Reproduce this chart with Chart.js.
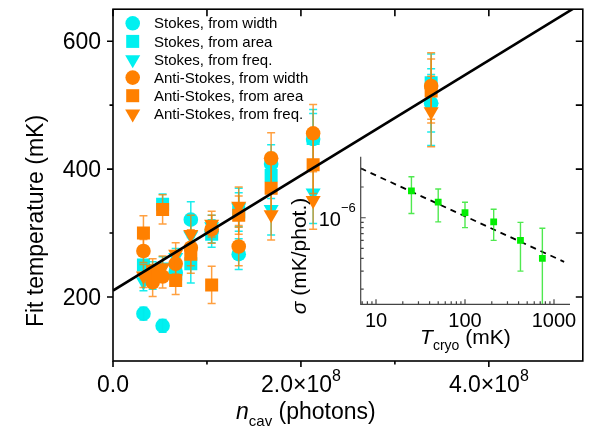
<!DOCTYPE html>
<html>
<head>
<meta charset="utf-8">
<script src="https://cdn.jsdelivr.net/npm/chart.js@4.4.1/dist/chart.umd.min.js"></script>
<style>
  body { margin: 0; background: #fff; }
  #wrap { position: relative; width: 592px; height: 436px; }
  #main { position: absolute; left: 0; top: 0; }
  #inset { position: absolute; left: 280px; top: 148px; }
</style>
</head>
<body>
<div id="wrap">
  <canvas id="main" width="592" height="436"></canvas>
  <canvas id="inset" width="300" height="214"></canvas>
</div>
<script>
// ---- main panel: fitted temperature vs. intracavity photon number ----
const nCav = [3.24e7, 4.22e7, 5.28e7, 6.67e7, 8.28e7, 1.05e8, 1.338e8, 1.683e8, 2.13e8, 3.386e8];

const stokesWidth    = [174, 226, 155, 238, 321, 303, 267, 408, 447, 503];
const stokesWidthErr = [10, 14, 10, 14, 28, 18, 24, 30, 40, 45];
const stokesArea     = [250, 241, 345, 236, 252, 298, 333, 390, 448, 535];
const stokesAreaErr  = [14, 14, 16, 14, 30, 20, 30, 36, 45, 45];
const stokesFreq     = [224, 233, 247, 262, 296, 310, 340, 337, 363, 497];
const stokesFreqErr  = [14, 14, 16, 14, 30, 18, 30, 40, 48, 60];
const antiWidth      = [272, 223, 232, 252, 277, 306, 279, 417, 456, 530];
const antiWidthErr   = [18, 22, 18, 16, 28, 22, 30, 40, 45, 52];
const antiArea       = [300, 240, 337, 226, 267, 219, 328, 370, 407, 522];
const antiAreaErr    = [27, 20, 23, 22, 30, 29, 30, 38, 45, 50];
const antiFreq       = [233, 233, 246, 267, 298, 314, 342, 329, 351, 490];
const antiFreqErr    = [18, 18, 18, 18, 30, 20, 30, 40, 45, 55];

// linear fit through all points
const fitN = [0, 5e8];
const fitT = [210, 660];

const yTicks = [200, 400, 600];
const yMinor = [300, 500];
const xTicks = [0, 2e8, 4e8];
const xTickLabels = [["0.0", ""], ["2.0×10", "8"], ["4.0×10", "8"]];
const xMinor = [1e8, 3e8];

// ---- inset: noise slope vs. cryostat temperature ----
const tCryo    = [25, 50, 100, 210, 420, 740];
const sigma    = [1.83e-6, 1.42e-6, 1.12e-6, 0.91e-6, 0.60e-6, 0.40e-6];
const sigmaLo  = [1.10e-6, 0.91e-6, 0.80e-6, 0.60e-6, 0.30e-6, 0.10e-6];
const sigmaHi  = [2.52e-6, 1.91e-6, 1.42e-6, 1.21e-6, 0.90e-6, 0.79e-6];
const sigFitT  = [6.7, 1300];
const sigFitS  = [3.05e-6, 0.37e-6];

const insetXTicks = [10, 100, 1000];
const insetYMinor = [2e-7, 3e-7, 4e-7, 5e-7, 6e-7, 7e-7, 8e-7, 9e-7, 2e-6, 3e-6];

const CYAN = '#00f0f0';
const ORANGE = '#ff8000';
const FONT = "'Liberation Sans', Arial, sans-serif";

const pts = (xs, ys) => xs.map((x, i) => ({ x, y: ys[i] }));
const lo = (v, e) => v.map((y, i) => y - e[i]);
const hi = (v, e) => v.map((y, i) => y + e[i]);

// vertical error bars with caps, drawn right after each dataset
const errorBars = {
  id: 'errorBars',
  afterDatasetDraw(chart, args) {
    const ds = chart.data.datasets[args.index];
    if (!ds.errLow) return;
    const { ctx, chartArea: a, scales: { x, y } } = chart;
    const cap = ds.errCap || 4;
    ctx.save();
    ctx.beginPath();
    ctx.rect(a.left, a.top, a.width, a.height);
    ctx.clip();
    ctx.strokeStyle = ds.errColor;
    ctx.lineWidth = ds.errWidth || 1.5;
    ds.data.forEach((p, i) => {
      const px = x.getPixelForValue(p.x);
      const top = y.getPixelForValue(ds.errHigh[i]);
      const bot = y.getPixelForValue(ds.errLow[i]);
      ctx.beginPath();
      ctx.moveTo(px, top); ctx.lineTo(px, bot);
      ctx.moveTo(px - cap, top); ctx.lineTo(px + cap, top);
      ctx.moveTo(px - cap, bot); ctx.lineTo(px + cap, bot);
      ctx.stroke();
    });
    ctx.restore();
  }
};

function runsWidth(ctx, runs) {
  return runs.reduce((w, r) => { ctx.font = r.font; return w + ctx.measureText(r.text).width; }, 0);
}
function drawRuns(ctx, runs, x, y) {
  ctx.textAlign = 'left';
  runs.forEach(r => {
    ctx.font = r.font;
    ctx.fillText(r.text, x, y + (r.dy || 0));
    x += ctx.measureText(r.text).width;
  });
}

function series(label, style, color, values, errs, size, errColor) {
  return {
    label, data: pts(nCav, values),
    pointStyle: style, pointRadius: size, pointHoverRadius: size,
    pointRotation: style === 'triangle' ? 180 : 0,
    pointBackgroundColor: color, pointBorderWidth: 0,
    errLow: lo(values, errs), errHigh: hi(values, errs),
    errColor, errCap: 4, errWidth: 1.5
  };
}

const cyanErr = 'rgba(0,235,235,0.9)';
const orangeErr = 'rgba(255,128,0,0.75)';

const mainSets = [
  { label: 'fit', data: pts(fitN, fitT), showLine: true, borderColor: '#000', borderWidth: 2.6, pointRadius: 0 },
  series('Anti-Stokes, from width', 'circle', ORANGE, antiWidth, antiWidthErr, 7.3, orangeErr),
  series('Anti-Stokes, from area', 'rect', ORANGE, antiArea, antiAreaErr, 9.2, orangeErr),
  series('Anti-Stokes, from freq.', 'triangle', ORANGE, antiFreq, antiFreqErr, 8.7, orangeErr),
  series('Stokes, from width', 'circle', CYAN, stokesWidth, stokesWidthErr, 7.3, cyanErr),
  series('Stokes, from area', 'rect', CYAN, stokesArea, stokesAreaErr, 9.2, cyanErr),
  series('Stokes, from freq.', 'triangle', CYAN, stokesFreq, stokesFreqErr, 8.7, cyanErr)
];

const legendOrder = [4, 5, 6, 1, 2, 3];

const mainAxes = {
  id: 'mainAxes',
  afterDraw(chart) {
    const { ctx, chartArea: a, scales: { x, y } } = chart;
    ctx.save();
    ctx.strokeStyle = '#000';
    ctx.lineWidth = 1.6;
    ctx.strokeRect(a.left, a.top, a.width, a.height);

    ctx.beginPath();
    // left and bottom ticks point out, top and right ticks point in
    yTicks.forEach(v => { const p = y.getPixelForValue(v); ctx.moveTo(a.left - 6, p); ctx.lineTo(a.left, p); });
    yMinor.forEach(v => { const p = y.getPixelForValue(v); ctx.moveTo(a.left - 3.5, p); ctx.lineTo(a.left, p); });
    yTicks.concat(yMinor).forEach(v => { const p = y.getPixelForValue(v); ctx.moveTo(a.right, p); ctx.lineTo(a.right - 7, p); });
    xTicks.forEach(v => { const p = x.getPixelForValue(v); ctx.moveTo(p, a.bottom); ctx.lineTo(p, a.bottom + 6); });
    xMinor.forEach(v => { const p = x.getPixelForValue(v); ctx.moveTo(p, a.bottom); ctx.lineTo(p, a.bottom + 3.5); });
    xTicks.concat(xMinor).forEach(v => { const p = x.getPixelForValue(v); ctx.moveTo(p, a.top); ctx.lineTo(p, a.top + 7); });
    ctx.stroke();

    ctx.fillStyle = '#000';
    ctx.font = '23px ' + FONT;
    ctx.textAlign = 'right';
    ctx.textBaseline = 'alphabetic';
    yTicks.forEach(v => ctx.fillText(String(v), a.left - 12, y.getPixelForValue(v) + 8));

    xTicks.forEach((v, i) => {
      const runs = [
        { text: xTickLabels[i][0], font: '23px ' + FONT },
        { text: xTickLabels[i][1], font: '16px ' + FONT, dy: -11 }
      ];
      const w = runsWidth(ctx, runs);
      drawRuns(ctx, runs, x.getPixelForValue(v) - w / 2, 392);
    });

    // axis titles
    drawRuns(ctx, [
      { text: 'n', font: 'italic 23px ' + FONT },
      { text: 'cav', font: '15px ' + FONT, dy: 7 },
      { text: ' (photons)', font: '23px ' + FONT }
    ], 236, 419);

    ctx.save();
    ctx.translate(43, 221);
    ctx.rotate(-Math.PI / 2);
    ctx.font = '23px ' + FONT;
    ctx.textAlign = 'center';
    ctx.fillText('Fit temperature (mK)', 0, 0);
    ctx.restore();

    // legend
    ctx.font = '15px ' + FONT;
    ctx.textBaseline = 'middle';
    legendOrder.forEach((idx, row) => {
      const ds = chart.data.datasets[idx];
      const cy = 23.3 + row * 18.1;
      ctx.fillStyle = ds.pointBackgroundColor;
      Chart.helpers.drawPoint(ctx, {
        pointStyle: ds.pointStyle, radius: ds.pointRadius, rotation: ds.pointRotation, borderWidth: 0
      }, 132.7, cy);
      ctx.fillStyle = '#000';
      ctx.textAlign = 'left';
      ctx.fillText(ds.label, 154, cy + 1);
    });
    ctx.restore();
  }
};

new Chart(document.getElementById('main'), {
  type: 'scatter',
  data: { datasets: mainSets },
  options: {
    responsive: false,
    animation: false,
    devicePixelRatio: 1,
    layout: { padding: { left: 113, top: 7.5, right: 5.5, bottom: 75 } },
    scales: {
      x: { type: 'linear', min: 0, max: 5e8, display: false },
      y: { type: 'linear', min: 100, max: 650, display: false }
    },
    plugins: { legend: { display: false }, tooltip: { enabled: false } }
  },
  plugins: [errorBars, mainAxes]
});

// ---- inset ----
const insetAxes = {
  id: 'insetAxes',
  afterDraw(chart) {
    const { ctx, chartArea: a, scales: { x, y } } = chart;
    ctx.save();
    ctx.strokeStyle = '#444';
    ctx.lineWidth = 1.2;
    ctx.beginPath();
    ctx.moveTo(a.left, a.top); ctx.lineTo(a.left, a.bottom); ctx.lineTo(a.right, a.bottom);
    for (let d = 1; d <= 1000; d *= 10) {
      for (let m = 1; m < 10; m++) {
        const v = d * m;
        if (v < x.min || v > x.max) continue;
        const p = x.getPixelForValue(v);
        ctx.moveTo(p, a.bottom); ctx.lineTo(p, a.bottom - (m === 1 ? 5 : 3));
      }
    }
    const p6 = y.getPixelForValue(1e-6);
    ctx.moveTo(a.left, p6); ctx.lineTo(a.left + 5, p6);
    insetYMinor.forEach(v => { const p = y.getPixelForValue(v); ctx.moveTo(a.left, p); ctx.lineTo(a.left + 3, p); });
    ctx.stroke();

    ctx.fillStyle = '#000';
    ctx.textBaseline = 'alphabetic';
    ctx.font = '20px ' + FONT;
    ctx.textAlign = 'center';
    insetXTicks.forEach(v => ctx.fillText(String(v), x.getPixelForValue(v), 179));

    const yl = [{ text: '10', font: '20px ' + FONT }, { text: '−6', font: '13px ' + FONT, dy: -14 }];
    drawRuns(ctx, yl, a.left - 5 - runsWidth(ctx, yl), p6 + 8);

    const xt = [
      { text: 'T', font: 'italic 21px ' + FONT },
      { text: 'cryo', font: '14px ' + FONT, dy: 6 },
      { text: ' (mK)', font: '21px ' + FONT }
    ];
    drawRuns(ctx, xt, (a.left + a.right) / 2 - runsWidth(ctx, xt) / 2, 196);

    ctx.save();
    ctx.translate(26, 108);
    ctx.rotate(-Math.PI / 2);
    const yt = [{ text: 'σ', font: 'italic 21px ' + FONT }, { text: ' (mK/phot.)', font: '21px ' + FONT }];
    drawRuns(ctx, yt, -runsWidth(ctx, yt) / 2, 0);
    ctx.restore();
    ctx.restore();
  }
};

new Chart(document.getElementById('inset'), {
  type: 'scatter',
  data: {
    datasets: [
      {
        label: 'sigma', data: pts(tCryo, sigma),
        pointStyle: 'rect', pointRadius: 4.8, pointBackgroundColor: '#00f000', pointBorderWidth: 0,
        errLow: sigmaLo, errHigh: sigmaHi, errColor: 'rgba(20,225,20,0.75)', errCap: 3, errWidth: 1.4
      },
      {
        label: 'power law', data: pts(sigFitT, sigFitS), showLine: true,
        borderColor: '#000', borderWidth: 1.8, borderDash: [6, 5], pointRadius: 0
      }
    ]
  },
  options: {
    responsive: false,
    animation: false,
    devicePixelRatio: 1,
    layout: { padding: { left: 80.7, top: 8.7, right: 10, bottom: 57.7 } },
    scales: {
      x: { type: 'logarithmic', min: 6.73, max: 1513, display: false },
      y: { type: 'logarithmic', min: 1.42e-7, max: 3.96e-6, display: false }
    },
    plugins: { legend: { display: false }, tooltip: { enabled: false } }
  },
  plugins: [errorBars, insetAxes]
});
</script>
</body>
</html>
